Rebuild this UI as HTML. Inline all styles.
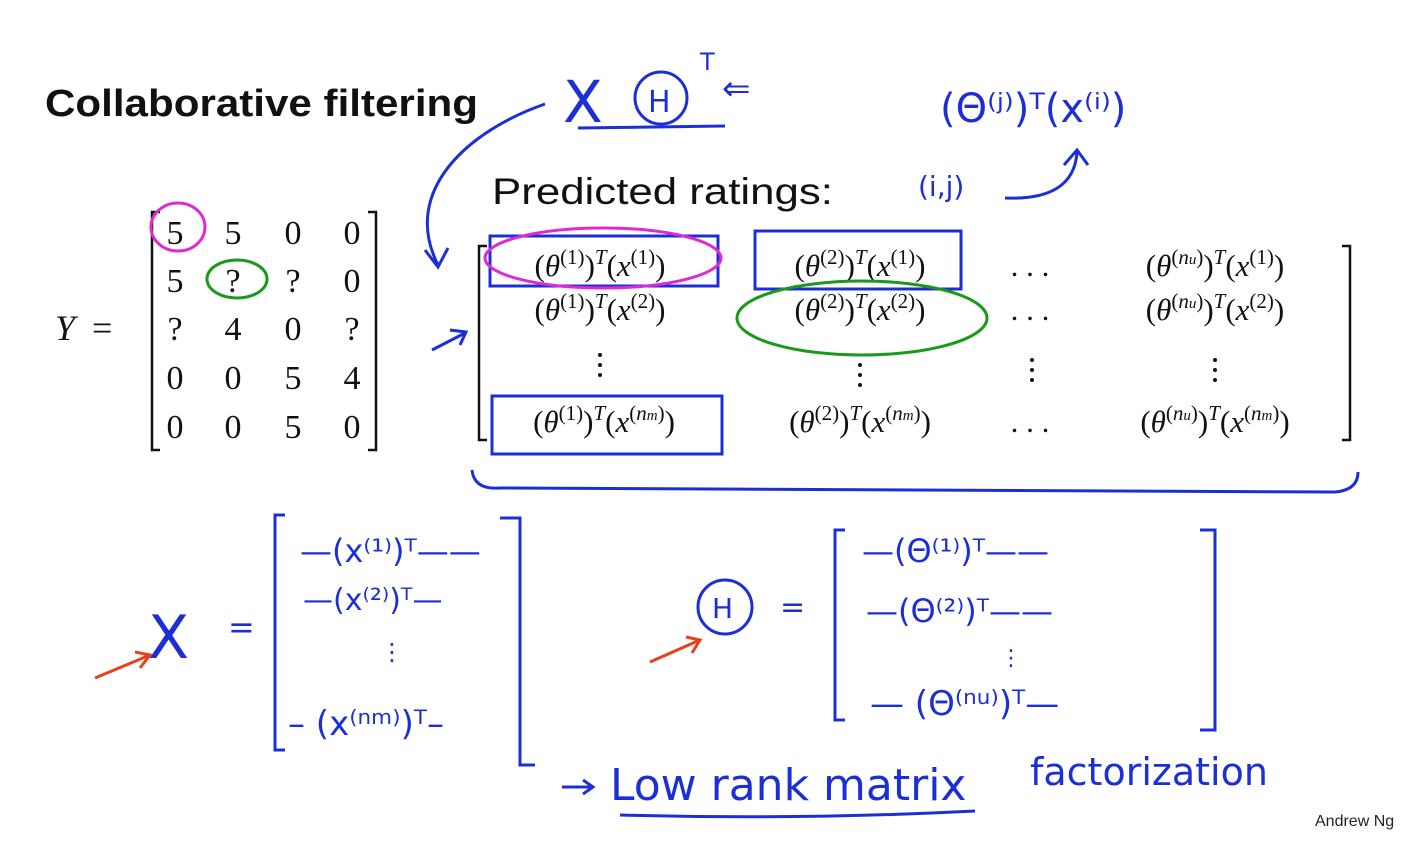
<!DOCTYPE html>
<html><head><meta charset="utf-8"><style>
html,body{margin:0;padding:0;background:#fff;}
svg{display:block}
.h{font-family:"DejaVu Sans",sans-serif;fill:#1c2fd6}
.m{font-family:"Liberation Serif",serif;fill:#111}
.mi{font-family:"Liberation Serif",serif;fill:#111}
.mi .i{font-style:italic}
</style></head><body>
<svg width="1417" height="842" viewBox="0 0 1417 842" xmlns="http://www.w3.org/2000/svg">
<rect width="1417" height="842" fill="#fff"/>
<text x="45" y="116" font-family="Liberation Sans,sans-serif" font-weight="bold" font-size="38" textLength="433" lengthAdjust="spacingAndGlyphs" fill="#111">Collaborative filtering</text>
<text x="492" y="204" font-family="Liberation Sans,sans-serif" font-size="37" textLength="341" lengthAdjust="spacingAndGlyphs" fill="#111">Predicted ratings:</text>

<!-- Y matrix -->
<text x="55" y="340" class="m" font-style="italic" font-size="36">Y</text><text x="92" y="340" class="m" font-size="36">=</text>
<path d="M160 212 H152 V450 H160 M368 212 H376 V450 H368" stroke="#111" stroke-width="2.5" fill="none"/>
<g class="m" font-size="34" text-anchor="middle">
<text x="175" y="244">5</text><text x="233" y="244">5</text><text x="293" y="244">0</text><text x="352" y="244">0</text>
<text x="175" y="292">5</text><text x="233" y="292">?</text><text x="293" y="292">?</text><text x="352" y="292">0</text>
<text x="175" y="340">?</text><text x="233" y="340">4</text><text x="293" y="340">0</text><text x="352" y="340">?</text>
<text x="175" y="389">0</text><text x="233" y="389">0</text><text x="293" y="389">5</text><text x="352" y="389">4</text>
<text x="175" y="438">0</text><text x="233" y="438">0</text><text x="293" y="438">5</text><text x="352" y="438">0</text>
</g>
<ellipse cx="178" cy="227" rx="27" ry="24" stroke="#e02ad0" stroke-width="3" fill="none"/>
<ellipse cx="237" cy="279" rx="30" ry="19" stroke="#1a9a1a" stroke-width="3" fill="none"/>

<!-- predicted matrix -->
<path d="M487 246 H479 V440 H487 M1342 246 H1350 V440 H1342" stroke="#111" stroke-width="2.5" fill="none"/>
<g class="mi" font-size="31" text-anchor="middle">
<text x="600" y="276">(<tspan class="i">θ</tspan><tspan dy="-12" font-size="21">(1)</tspan><tspan dy="12">)</tspan><tspan dy="-12" font-size="21" class="i">T</tspan><tspan dy="12">(</tspan><tspan class="i">x</tspan><tspan dy="-12" font-size="21">(1)</tspan><tspan dy="12">)</tspan></text>
<text x="860" y="276">(<tspan class="i">θ</tspan><tspan dy="-12" font-size="21">(2)</tspan><tspan dy="12">)</tspan><tspan dy="-12" font-size="21" class="i">T</tspan><tspan dy="12">(</tspan><tspan class="i">x</tspan><tspan dy="-12" font-size="21">(1)</tspan><tspan dy="12">)</tspan></text>
<text x="1030" y="276">. . .</text>
<text x="1215" y="276">(<tspan class="i">θ</tspan><tspan dy="-12" font-size="21">(<tspan class="i">n<tspan font-size="15">u</tspan></tspan>)</tspan><tspan dy="12">)</tspan><tspan dy="-12" font-size="21" class="i">T</tspan><tspan dy="12">(</tspan><tspan class="i">x</tspan><tspan dy="-12" font-size="21">(1)</tspan><tspan dy="12">)</tspan></text>
<text x="600" y="320">(<tspan class="i">θ</tspan><tspan dy="-12" font-size="21">(1)</tspan><tspan dy="12">)</tspan><tspan dy="-12" font-size="21" class="i">T</tspan><tspan dy="12">(</tspan><tspan class="i">x</tspan><tspan dy="-12" font-size="21">(2)</tspan><tspan dy="12">)</tspan></text>
<text x="860" y="320">(<tspan class="i">θ</tspan><tspan dy="-12" font-size="21">(2)</tspan><tspan dy="12">)</tspan><tspan dy="-12" font-size="21" class="i">T</tspan><tspan dy="12">(</tspan><tspan class="i">x</tspan><tspan dy="-12" font-size="21">(2)</tspan><tspan dy="12">)</tspan></text>
<text x="1030" y="320">. . .</text>
<text x="1215" y="320">(<tspan class="i">θ</tspan><tspan dy="-12" font-size="21">(<tspan class="i">n<tspan font-size="15">u</tspan></tspan>)</tspan><tspan dy="12">)</tspan><tspan dy="-12" font-size="21" class="i">T</tspan><tspan dy="12">(</tspan><tspan class="i">x</tspan><tspan dy="-12" font-size="21">(2)</tspan><tspan dy="12">)</tspan></text>
<text x="604" y="432">(<tspan class="i">θ</tspan><tspan dy="-12" font-size="21">(1)</tspan><tspan dy="12">)</tspan><tspan dy="-12" font-size="21" class="i">T</tspan><tspan dy="12">(</tspan><tspan class="i">x</tspan><tspan dy="-12" font-size="21">(<tspan class="i">n<tspan font-size="15">m</tspan></tspan>)</tspan><tspan dy="12">)</tspan></text>
<text x="860" y="432">(<tspan class="i">θ</tspan><tspan dy="-12" font-size="21">(2)</tspan><tspan dy="12">)</tspan><tspan dy="-12" font-size="21" class="i">T</tspan><tspan dy="12">(</tspan><tspan class="i">x</tspan><tspan dy="-12" font-size="21">(<tspan class="i">n<tspan font-size="15">m</tspan></tspan>)</tspan><tspan dy="12">)</tspan></text>
<text x="1030" y="432">. . .</text>
<text x="1215" y="432">(<tspan class="i">θ</tspan><tspan dy="-12" font-size="21">(<tspan class="i">n<tspan font-size="15">u</tspan></tspan>)</tspan><tspan dy="12">)</tspan><tspan dy="-12" font-size="21" class="i">T</tspan><tspan dy="12">(</tspan><tspan class="i">x</tspan><tspan dy="-12" font-size="21">(<tspan class="i">n<tspan font-size="15">m</tspan></tspan>)</tspan><tspan dy="12">)</tspan></text>
</g>
<g fill="#111"><circle cx="600" cy="355" r="2"/><circle cx="600" cy="365" r="2"/><circle cx="600" cy="375" r="2"/>
<circle cx="860" cy="365" r="2"/><circle cx="860" cy="375" r="2"/><circle cx="860" cy="385" r="2"/>
<circle cx="1032" cy="360" r="2"/><circle cx="1032" cy="370" r="2"/><circle cx="1032" cy="380" r="2"/>
<circle cx="1215" cy="360" r="2"/><circle cx="1215" cy="370" r="2"/><circle cx="1215" cy="380" r="2"/></g>
<g stroke="#1c2fd6" stroke-width="3" fill="none">
<rect x="490" y="236" width="228" height="50"/>
<rect x="755" y="231" width="206" height="58"/>
<rect x="492" y="396" width="230" height="58"/>
<path d="M472 470 Q474 490 500 488 L1335 492 Q1358 490 1358 472"/>
<path d="M545 104 C470 130 400 190 438 265 M425 250 L438 267 L448 248"/>
<path d="M432 350 L465 333 M450 330 L466 332 L460 345"/>
<path d="M1005 198 C1050 200 1075 185 1077 152 M1064 165 L1077 150 L1088 165"/>
<path d="M578 128 L725 126"/>
<path d="M620 815 Q800 820 975 811"/>
<path d="M562 787 H592 M583 780 L593 787 L583 794"/>
<path d="M285 515 H275 V750 H285 M500 518 H520 V765 M520 518 V765 H535"/>
<path d="M845 530 H835 V720 H845 M1200 530 H1215 V730 H1200"/>
<circle cx="725" cy="607" r="27"/>
<circle cx="661" cy="98" r="26"/>
</g>
<ellipse cx="603" cy="258" rx="118" ry="30" stroke="#e02ad0" stroke-width="3" fill="none"/>
<ellipse cx="862" cy="318" rx="125" ry="37" stroke="#1a9a1a" stroke-width="3" fill="none"/>

<!-- handwriting -->
<text x="563" y="122" class="h" font-size="58">X</text>
<text x="648" y="112" class="h" font-size="30">H</text>
<text x="700" y="70" class="h" font-size="24">T</text>
<text x="722" y="100" class="h" font-size="34">⇐</text>
<text x="940" y="122" class="h" font-size="40">(Θ⁽ʲ⁾)ᵀ(x⁽ⁱ⁾)</text>
<text x="918" y="196" class="h" font-size="28">(i,j)</text>
<text x="148" y="658" class="h" font-size="60">X</text>
<text x="228" y="638" class="h" font-size="32">=</text>
<text x="300" y="562" class="h" font-size="32">—(x⁽¹⁾)ᵀ——</text>
<text x="303" y="610" class="h" font-size="30">—(x⁽²⁾)ᵀ—</text>
<text x="380" y="660" class="h" font-size="24">⋮</text>
<text x="288" y="735" class="h" font-size="34">– (x⁽ⁿᵐ⁾)ᵀ–</text>
<text x="712" y="618" class="h" font-size="28">H</text>
<text x="780" y="617" class="h" font-size="30">=</text>
<text x="862" y="562" class="h" font-size="32">—(Θ⁽¹⁾)ᵀ——</text>
<text x="866" y="622" class="h" font-size="32">—(Θ⁽²⁾)ᵀ——</text>
<text x="1000" y="665" class="h" font-size="22">⋮</text>
<text x="870" y="715" class="h" font-size="34">— (Θ⁽ⁿᵘ⁾)ᵀ—</text>
<text x="610" y="800" class="h" font-size="44">Low rank matrix</text>
<text x="1030" y="785" class="h" font-size="38">factorization</text>
<g stroke="#e8401c" stroke-width="3" fill="none">
<path d="M95 678 L150 655 M135 652 L150 655 L140 668"/>
<path d="M650 662 L700 640 M686 637 L700 640 L692 653"/>
</g>
<text x="1315" y="826" font-family="Liberation Sans,sans-serif" font-size="16" fill="#222">Andrew Ng</text>
</svg>
</body></html>
